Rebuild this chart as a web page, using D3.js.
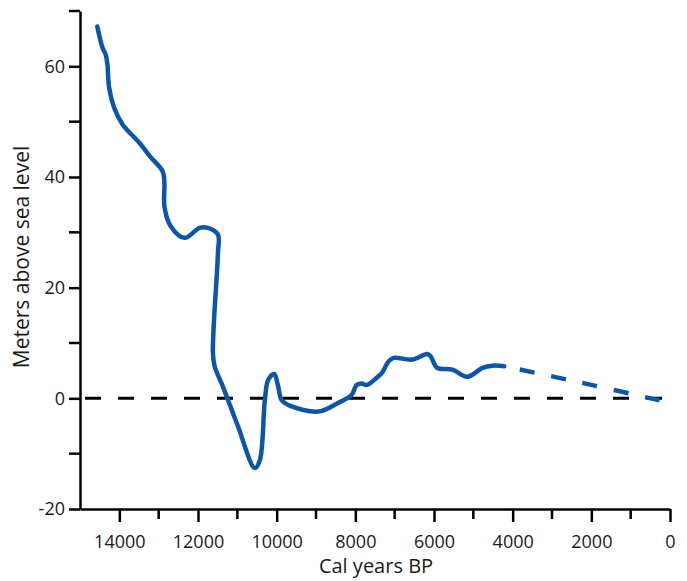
<!DOCTYPE html>
<html>
  <head>
    <meta charset="utf-8">
    <title>Sea level curve</title>
    <style>
      html, body { margin: 0; padding: 0; background: #fff; }
      svg { display: block; }
      text { font-family: "Open Sans", "Noto Sans", sans-serif; fill: #1a1a1a; }
    </style>
  </head>
  <body>
    <svg width="687" height="581"></svg>
    <script src="https://d3js.org/d3.v7.min.js"></script>
    <script>
      // solid part of the curve (cal years BP, metres)
      var years = [14560, 14430, 14346, 14302, 14259, 14131, 13918, 13492, 13204, 12898,
                   12854, 12854, 12693, 12343, 11960, 11748, 11493, 11493, 11621, 11577,
                   11365, 11237, 10982, 10556, 10428, 10300, 10216, 10063, 9961, 9876,
                   9705, 8939, 8428, 8096, 7969, 7841, 7713, 7458, 7322, 7151,
                   7023, 6556, 6173, 6086, 5918, 5535, 5151, 4768, 4513, 4214];
      var levels = [67.2, 63.4, 62.1, 60.3, 56.1, 52.5, 49.5, 46.2, 43.6, 41.0,
                    38.9, 34.7, 31.1, 29.0, 30.8, 30.8, 29.6, 26.3, 8.2, 5.8,
                    2.1, -0.3, -5.1, -12.6, -11.2, -0.3, 3.3, 4.4, 2.1, -0.3,
                    -1.2, -2.4, -0.8, 0.6, 2.4, 2.7, 2.4, 3.7, 4.6, 6.7,
                    7.3, 7.0, 8.0, 7.6, 5.5, 5.2, 3.9, 5.5, 5.9, 5.8];
      // dashed (extrapolated) part
      var dashYears = [4214, 2300, 0];
      var dashLevels = [5.8, 2.9, -0.8];

      var xMajor = [14000, 12000, 10000, 8000, 6000, 4000, 2000, 0];
      var xMinor = [13000, 11000, 9000, 7000, 5000, 3000, 1000];
      var yMajor = [-20, 0, 20, 40, 60];
      var yMinor = [-10, 10, 30, 50, 70];

      var svg = d3.select('svg');
      var x = d3.scaleLinear().domain([15000, 0]).range([80, 670]);
      var y = d3.scaleLinear().domain([-20, 70]).range([509, 11]);

      // zero reference line
      svg.append('line')
        .attr('x1', 85).attr('x2', x(0))
        .attr('y1', y(0)).attr('y2', y(0))
        .attr('stroke', '#000').attr('stroke-width', 3)
        .attr('stroke-dasharray', '16,17');

      var xAxis = svg.append('g')
        .attr('transform', 'translate(0,' + y(-20) + ')')
        .call(d3.axisBottom(x).tickValues(xMajor).tickFormat(function(d) { return String(d); })
          .tickSize(13).tickSizeOuter(0).tickPadding(13));
      xAxis.append('g').selectAll('line')
        .data(xMinor).enter().append('line')
          .attr('x1', function(d) { return x(d); })
          .attr('x2', function(d) { return x(d); })
          .attr('y1', 0).attr('y2', 10);

      var yAxis = svg.append('g')
        .attr('transform', 'translate(' + x(15000) + ',0)')
        .call(d3.axisLeft(y).tickValues(yMajor).tickFormat(function(d) { return String(d); })
          .tickSize(11).tickSizeOuter(0).tickPadding(4));
      yAxis.append('g').selectAll('line')
        .data(yMinor).enter().append('line')
          .attr('y1', function(d) { return y(d); })
          .attr('y2', function(d) { return y(d); })
          .attr('x1', 0).attr('x2', -11);

      svg.selectAll('.domain').attr('stroke', '#000').attr('stroke-width', 2.5);
      svg.selectAll('g line').attr('stroke', '#000').attr('stroke-width', 2.5);
      svg.selectAll('.tick text').style('font-size', '18px').attr('fill', '#1a1a1a');

      var solid = years.map(function(d, i) { return [d, levels[i]]; });
      var dashed = dashYears.map(function(d, i) { return [d, dashLevels[i]]; });
      var line = d3.line()
        .x(function(d) { return x(d[0]); })
        .y(function(d) { return y(d[1]); })
        .curve(d3.curveCatmullRom.alpha(0.5));

      svg.append('path').datum(solid)
        .attr('d', line)
        .attr('fill', 'none').attr('stroke', '#0b56a8')
        .attr('stroke-width', 4.5).attr('stroke-linecap', 'round').attr('stroke-linejoin', 'round');

      svg.append('path').datum(dashed)
        .attr('d', line)
        .attr('fill', 'none').attr('stroke', '#0b56a8')
        .attr('stroke-width', 4.5).attr('stroke-dasharray', '15,17').attr('stroke-dashoffset', -16);

      svg.append('text')
        .attr('x', 376).attr('y', 573)
        .attr('text-anchor', 'middle')
        .style('font-size', '20px')
        .text('Cal years BP');

      svg.append('text')
        .attr('transform', 'translate(29,257) rotate(-90)')
        .attr('text-anchor', 'middle')
        .style('font-size', '21px')
        .text('Meters above sea level');
    </script>
  </body>
</html>
